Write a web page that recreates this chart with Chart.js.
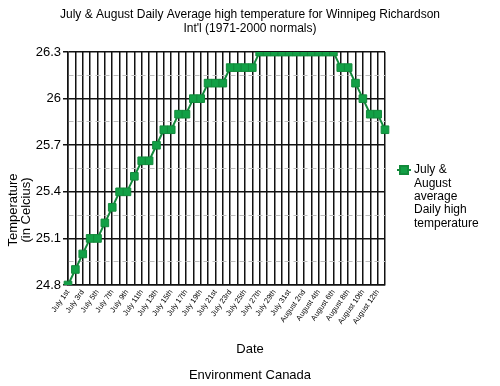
<!DOCTYPE html>
<html>
<head>
<meta charset="utf-8">
<script src="https://cdn.jsdelivr.net/npm/chart.js@4.4.1/dist/chart.umd.min.js"></script>
<style>
    html, body { margin: 0; padding: 0; background: #fff; }
    #wrap { width: 500px; height: 386px; }
</style>
</head>
<body>
<div id="wrap"><canvas id="tempChart"></canvas></div>
<script>
const dates = [
    'July 1st', 'July 2nd', 'July 3rd', 'July 4th', 'July 5th', 'July 6th', 'July 7th', 'July 8th',
    'July 9th', 'July 10th', 'July 11th', 'July 12th', 'July 13th', 'July 14th', 'July 15th', 'July 16th',
    'July 17th', 'July 18th', 'July 19th', 'July 20th', 'July 21st', 'July 22nd', 'July 23rd', 'July 24th',
    'July 25th', 'July 26th', 'July 27th', 'July 28th', 'July 29th', 'July 30th', 'July 31st',
    'August 1st', 'August 2nd', 'August 3rd', 'August 4th', 'August 5th', 'August 6th', 'August 7th',
    'August 8th', 'August 9th', 'August 10th', 'August 11th', 'August 12th', 'August 13th'
];
const highTemps = [
    24.8, 24.9, 25.0, 25.1, 25.1, 25.2, 25.3, 25.4, 25.4, 25.5, 25.6, 25.6,
    25.7, 25.8, 25.8, 25.9, 25.9, 26.0, 26.0, 26.1, 26.1, 26.1, 26.2, 26.2,
    26.2, 26.2, 26.3, 26.3, 26.3, 26.3, 26.3, 26.3, 26.3, 26.3, 26.3, 26.3,
    26.3, 26.2, 26.2, 26.1, 26.0, 25.9, 25.9, 25.8
];
const yMin = 24.8;
const yMax = 26.3;
const yStep = 0.3;

const chartTitle = ['July & August Daily Average high temperature for Winnipeg Richardson', "Int'l (1971-2000 normals)"];
const yTitle = ['Temperature', '(in Celcius)'];
const xTitle = 'Date';
const sourceNote = 'Environment Canada';
const legendLines = ['July &', 'August', 'average', 'Daily high', 'temperature'];

const FONT = '"Liberation Sans", Arial, sans-serif';
const GREEN_LINE = '#128a3b';
const GREEN_FILL = '#12a046';

// texts the original places outside the usual Chart.js boxes
const extraText = {
    id: 'extraText',
    afterDraw(chart) {
        const ctx = chart.ctx;
        ctx.save();
        ctx.fillStyle = '#000';
        ctx.font = '13px ' + FONT;
        ctx.textAlign = 'center';
        ctx.textBaseline = 'middle';

        ctx.save();
        ctx.translate(13, 210);
        ctx.rotate(-Math.PI / 2);
        ctx.fillText(yTitle[0], 0, 0);
        ctx.fillText(yTitle[1], 0, 13);
        ctx.restore();

        ctx.fillText(xTitle, 250, 349);
        ctx.fillText(sourceNote, 250, 375);

        // legend
        ctx.strokeStyle = GREEN_LINE;
        ctx.lineWidth = 2;
        ctx.beginPath();
        ctx.moveTo(397, 170);
        ctx.lineTo(411, 170);
        ctx.stroke();
        ctx.fillStyle = GREEN_FILL;
        ctx.fillRect(400, 166, 8, 8);
        ctx.strokeRect(400, 166, 8, 8);

        ctx.fillStyle = '#000';
        ctx.font = '12px ' + FONT;
        ctx.textAlign = 'left';
        legendLines.forEach((line, i) => ctx.fillText(line, 414, 170 + i * 13.3));
        ctx.restore();
    }
};

new Chart(document.getElementById('tempChart'), {
    type: 'line',
    data: {
        labels: dates,
        datasets: [{
            label: 'July & August average Daily high temperature',
            data: highTemps,
            borderColor: GREEN_LINE,
            borderWidth: 2,
            backgroundColor: GREEN_FILL,
            pointStyle: 'rect',
            pointRadius: 5.4,
            pointBorderColor: GREEN_LINE,
            pointBorderWidth: 1,
            tension: 0
        }]
    },
    options: {
        responsive: true,
        maintainAspectRatio: false,
        animation: false,
        layout: {
            padding: 0
        },
        scales: {
            x: {
                offset: false,
                afterFit: (axis) => { axis.height = 101; },
                grid: {
                    color: '#111',
                    lineWidth: 1.5,
                    drawTicks: false
                },
                border: { color: '#111', width: 1.5 },
                ticks: {
                    autoSkip: false,
                    minRotation: 55,
                    maxRotation: 55,
                    padding: 3,
                    color: '#000',
                    font: { family: FONT, size: 7.5 },
                    callback: (val, i) => (i % 2 === 0 ? dates[i] : '')
                }
            },
            y: {
                min: yMin,
                max: yMax,
                afterFit: (axis) => { axis.width = 68; },
                grid: {
                    color: (c) => (c.index % 2 === 0 ? '#111' : '#bdbdbd'),
                    lineWidth: (c) => (c.index % 2 === 0 ? 1.5 : 1),
                    tickColor: (c) => (c.index % 2 === 0 ? '#111' : 'rgba(0,0,0,0)'),
                    tickLength: 5
                },
                border: {
                    color: '#111',
                    width: 1.5,
                    dash: (c) => (c.tick && c.index % 2 === 1 ? [5, 4] : [])
                },
                ticks: {
                    stepSize: yStep / 2,
                    padding: 2,
                    color: '#000',
                    font: { family: FONT, size: 13 },
                    callback: (val, i) => (i % 2 === 0 ? String(Math.round(val * 10) / 10) : '')
                }
            },
            // empty axis on the right, only keeps room for the legend
            legendSpace: {
                position: 'right',
                min: yMin,
                max: yMax,
                afterFit: (axis) => { axis.width = 115; },
                grid: { display: false },
                border: { display: false },
                ticks: { display: false }
            }
        },
        plugins: {
            legend: { display: false },
            tooltip: { enabled: false },
            title: {
                display: true,
                text: chartTitle,
                color: '#000',
                font: { family: FONT, size: 12, weight: 'normal', lineHeight: 1.17 },
                padding: { top: 8, bottom: 16 }
            }
        }
    },
    plugins: [extraText]
});
</script>
</body>
</html>
